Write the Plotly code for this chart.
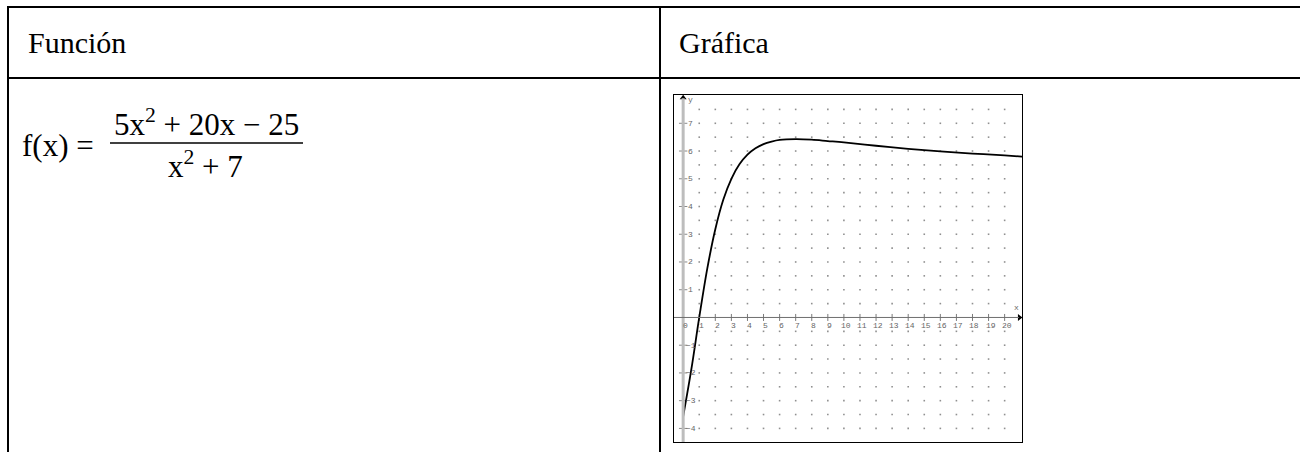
import plotly.graph_objects as go

# ---- data ----
curve_x = [0, 0.5, 1, 1.5, 2, 2.5, 3, 3.5, 4, 4.5, 5, 5.5, 6, 7, 8, 9, 10, 12, 14, 16, 18, 20, 21.1]
curve_y = [-3.57, -1.90, 0.00, 1.76, 3.18, 4.25, 5.00, 5.52, 5.87, 6.10, 6.25, 6.34, 6.40, 6.43, 6.41,
           6.36, 6.31, 6.19, 6.08, 5.99, 5.91, 5.84, 5.80]
x_ticks = list(range(0, 21))
y_ticks = [-4, -3, -2, -1, 1, 2, 3, 4, 5, 6, 7]
dot_x = list(range(1, 21))
dot_y = [v / 2 for v in range(-8, 16) if v != 0]
header_left = "Función"
header_right = "Gráfica"

W, H = 1300, 452
X_RANGE = [-0.57, 21.08]
Y_RANGE = [-4.49, 8.02]


def px(xp):
    return xp / W


def py(yp):
    return 1 - yp / H


fig = go.Figure()

# dotted grid
gx, gy = [], []
for yv in dot_y:
    for xv in dot_x:
        gx.append(xv)
        gy.append(yv)
fig.add_trace(go.Scatter(x=gx, y=gy, mode="markers",
                         marker=dict(size=1.6, color="#909090", symbol="square"),
                         hoverinfo="skip"))

# axes lines
fig.add_shape(type="line", xref="x", yref="y", x0=0, x1=0, y0=Y_RANGE[0], y1=7.9,
              line=dict(color="#bdbdbd", width=3))
fig.add_shape(type="line", xref="x", yref="y", x0=X_RANGE[0], x1=20.9, y0=0, y1=0,
              line=dict(color="#6e6e6e", width=1))

# tick marks
fig.add_trace(go.Scatter(x=x_ticks[1:], y=[0] * (len(x_ticks) - 1), mode="markers",
                         marker=dict(symbol="line-ns", size=5, line=dict(width=1, color="#7a7a7a")),
                         hoverinfo="skip"))
fig.add_trace(go.Scatter(x=[0] * len(y_ticks), y=y_ticks, mode="markers",
                         marker=dict(symbol="line-ew", size=6, line=dict(width=1, color="#8a8a8a")),
                         hoverinfo="skip"))

# the curve
fig.add_trace(go.Scatter(x=curve_x, y=curve_y, mode="lines", line_shape="spline",
                         line=dict(color="black", width=1.8), hoverinfo="skip"))

# arrows
fig.add_trace(go.Scatter(x=[20.92], y=[0], mode="markers", cliponaxis=False,
                         marker=dict(symbol="triangle-right", size=6, color="black"), hoverinfo="skip"))
fig.add_trace(go.Scatter(x=[0], y=[7.92], mode="markers", cliponaxis=False,
                         marker=dict(symbol="triangle-up", size=6, color="black"), hoverinfo="skip"))

tick_font = dict(family="Liberation Mono, DejaVu Sans Mono, monospace", size=8, color="#666666")
ann = []
for t in x_ticks:
    ann.append(dict(x=t, y=0, xref="x", yref="y", text=str(t), showarrow=False,
                    font=tick_font, xanchor="center", yanchor="top", xshift=2, yshift=-2))
for t in y_ticks:
    ann.append(dict(x=0, y=t, xref="x", yref="y", text=str(t) if t > 0 else "\u2212" + str(-t),
                    showarrow=False, font=tick_font, xanchor="left", yanchor="middle",
                    xshift=1 if t < 0 else 3))
ann.append(dict(x=20.75, y=0, xref="x", yref="y", text="x", showarrow=False, font=tick_font,
                xanchor="center", yanchor="bottom", yshift=3))
ann.append(dict(x=0, y=7.84, xref="x", yref="y", text="y", showarrow=False, font=tick_font,
                xanchor="left", yanchor="middle", xshift=3))

serif = "Liberation Serif, Times New Roman, serif"
ann.append(dict(x=px(26), y=py(43), xref="paper", yref="paper", text=header_left, showarrow=False,
                font=dict(family=serif, size=30, color="black"), xanchor="left", yanchor="middle"))
ann.append(dict(x=px(677), y=py(43), xref="paper", yref="paper", text=header_right, showarrow=False,
                font=dict(family=serif, size=30, color="black"), xanchor="left", yanchor="middle"))
ann.append(dict(x=px(20), y=py(146), xref="paper", yref="paper", text="f(x) =", showarrow=False,
                font=dict(family=serif, size=31, color="black"), xanchor="left", yanchor="middle"))
ann.append(dict(x=px(206), y=py(123), xref="paper", yref="paper",
                text="5x<sup>2</sup> + 20x \u2212 25", showarrow=False,
                font=dict(family=serif, size=31, color="black"), xanchor="center", yanchor="middle"))
ann.append(dict(x=px(205), y=py(164), xref="paper", yref="paper",
                text="x<sup>2</sup> + 7", showarrow=False,
                font=dict(family=serif, size=31, color="black"), xanchor="center", yanchor="middle"))

shapes = [
    dict(type="line", xref="paper", yref="paper", x0=px(110), x1=px(303), y0=py(143), y1=py(143),
         line=dict(color="black", width=1.3)),
    # table lines
    dict(type="line", xref="paper", yref="paper", x0=px(7), x1=1, y0=py(7), y1=py(7),
         line=dict(color="black", width=2)),
    dict(type="line", xref="paper", yref="paper", x0=px(7), x1=1, y0=py(78), y1=py(78),
         line=dict(color="black", width=2)),
    dict(type="line", xref="paper", yref="paper", x0=px(8), x1=px(8), y0=py(6), y1=0,
         line=dict(color="black", width=2)),
    dict(type="line", xref="paper", yref="paper", x0=px(660), x1=px(660), y0=py(6), y1=0,
         line=dict(color="black", width=2)),
]
for s in shapes:
    fig.add_shape(**s)

fig.update_layout(
    width=W, height=H, margin=dict(l=0, r=0, t=0, b=0),
    paper_bgcolor="white", plot_bgcolor="white", showlegend=False,
    annotations=ann,
    xaxis=dict(domain=[px(674), px(1022)], range=X_RANGE, showgrid=False, zeroline=False,
               showticklabels=False, ticks="", showline=True, mirror=True, linecolor="black",
               linewidth=1, fixedrange=True),
    yaxis=dict(domain=[py(442), py(95)], range=Y_RANGE, showgrid=False, zeroline=False,
               showticklabels=False, ticks="", showline=True, mirror=True, linecolor="black",
               linewidth=1, fixedrange=True),
)

fig.write_html("out.html", config={"displayModeBar": False},
               post_script="document.body.style.margin='0px';document.body.style.overflow='hidden';")
